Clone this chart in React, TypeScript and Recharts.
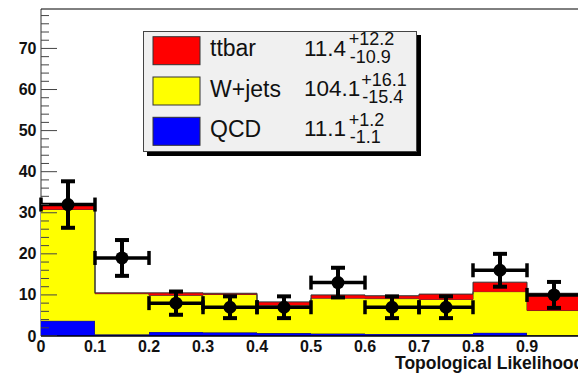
import React from 'react';
import { ComposedChart, Area, Scatter, XAxis, YAxis, ErrorBar, ReferenceLine, Legend } from 'recharts';

// ---- data ----
const binEdges = [0, 0.1, 0.2, 0.3, 0.4, 0.5, 0.6, 0.7, 0.8, 0.9, 1.0];
const qcd = [3.7, 0.4, 1.0, 0.9, 0.7, 0.6, 0.5, 0.5, 0.8, 0.2];
const wjets = [27.1, 9.9, 8.9, 9.2, 6.8, 8.6, 8.6, 8.4, 10.0, 6.0];
const ttbar = [1.2, 0.2, 0.6, 0.3, 0.8, 0.8, 0.7, 1.3, 2.3, 4.2];
const dataCounts = [32, 19, 8, 7, 7, 13, 7, 7, 16, 10];
const dataErrors = [5.66, 4.36, 2.83, 2.65, 2.65, 3.61, 2.65, 2.65, 4.0, 3.16];
const binHalfWidth = 0.05;

const xTicks = [0, 0.1, 0.2, 0.3, 0.4, 0.5, 0.6, 0.7, 0.8, 0.9];
const yTicks = [0, 2, 4, 6, 8, 10, 12, 14, 16, 18, 20, 22, 24, 26, 28, 30, 32, 34, 36, 38,
  40, 42, 44, 46, 48, 50, 52, 54, 56, 58, 60, 62, 64, 66, 68, 70, 72, 74, 76, 78];
const yMax = 79.6;

const legendNames = ['ttbar', 'W+jets', 'QCD'];
const legendYields = ['11.4', '104.1', '11.1'];
const legendUp = ['+12.2', '+16.1', '+1.2'];
const legendDown = ['-10.9', '-15.4', '-1.1'];
const legendColors = ['#ff0000', '#ffff00', '#0000ff'];

const axisTitle = 'Topological Likelihood';

// ---- tables built from the arrays ----
const histData = binEdges.map((x, i) => {
  const j = Math.min(i, qcd.length - 1);
  return { x, qcd: qcd[j], wjets: wjets[j], ttbar: ttbar[j] };
});
const pointData = dataCounts.map((y, i) => ({
  x: binEdges[i] + binHalfWidth,
  y,
  ex: binHalfWidth,
  ey: dataErrors[i],
}));

const FONT = '"Liberation Sans", Arial, Helvetica, sans-serif';

const textWidth = (s: string, size: number) =>
  s.split('').reduce((w, c) => w + (c === '.' ? 0.278 : c === '+' ? 0.584 : c === '-' ? 0.333 : 0.556), 0) * size;

const XTick = (props: any) => {
  const { x, y, payload } = props;
  return (
    <text x={x} y={y + 15.5} textAnchor="middle" fontFamily={FONT} fontWeight="bold" fontSize={16} fill="#111">
      {payload.value}
    </text>
  );
};

const YTick = (props: any) => {
  const { x, y, payload } = props;
  const v = payload.value;
  const major = v % 10 === 0;
  return (
    <g>
      <line x1={x} x2={x + (major ? 16 : 8)} y1={y} y2={y} stroke="#444" strokeWidth={1} />
      {major && (
        <text x={x - 4.5} y={y + 5.5} textAnchor="end" fontFamily={FONT} fontWeight="bold" fontSize={16} fill="#111">
          {v}
        </text>
      )}
    </g>
  );
};

const AxisTitle = (props: any) => {
  const vb = props.viewBox || { x: 41, y: 336, width: 540, height: 37 };
  return (
    <text x={395} y={vb.y + 33} textAnchor="start" fontFamily={FONT} fontWeight="bold" fontSize={17.5} fill="#111">
      {axisTitle}
    </text>
  );
};

const LegendBox = () => (
  <div
    style={{
      width: 272,
      height: 119,
      background: '#f0f0f0',
      border: '1px solid #444',
      boxShadow: '4px 4px 0 #000',
      position: 'relative',
    }}
  >
    <svg width={272} height={119} style={{ position: 'absolute', left: 0, top: 0, overflow: 'visible' }}>
      {legendNames.map((name, i) => {
        const top = 4.7 + i * 40.3;
        const base = top + 19;
        const supX = 160 + textWidth(legendYields[i], 22.5) + 1;
        return (
          <g key={name}>
            <rect x={9} y={top} width={47} height={28} fill={legendColors[i]} stroke="#333" strokeWidth={1} />
            <text x={66} y={base + 0.5} fontFamily={FONT} fontSize={23} fill="#111">{name}</text>
            <text x={160} y={base} fontFamily={FONT} fontSize={22.5} fill="#111">{legendYields[i]}</text>
            <text x={supX} y={base - 10.5} fontFamily={FONT} fontSize={18} fill="#111">{legendUp[i]}</text>
            <text x={supX + 1} y={base + 7} fontFamily={FONT} fontSize={18} fill="#111">{legendDown[i]}</text>
          </g>
        );
      })}
    </svg>
  </div>
);

export default function App() {
  return (
    <div style={{ position: 'absolute', left: 0, top: 0, width: 578, height: 373, overflow: 'hidden', background: '#fff' }}>
      <ComposedChart width={600} height={373} data={histData} margin={{ top: 9, right: 19, bottom: 0, left: 0 }}>
        <XAxis
          dataKey="x"
          type="number"
          domain={[0, 1]}
          ticks={xTicks}
          interval={0}
          height={37}
          tick={<XTick />}
          tickLine={false}
          tickSize={0}
          tickMargin={0}
          axisLine={{ stroke: '#000', strokeWidth: 1.5 }}
          allowDataOverflow
          label={<AxisTitle />}
        />
        <YAxis
          type="number"
          domain={[0, yMax]}
          ticks={yTicks}
          interval={0}
          width={41}
          tick={<YTick />}
          tickLine={false}
          tickSize={0}
          tickMargin={0}
          axisLine={{ stroke: '#333', strokeWidth: 1 }}
          allowDataOverflow
          zIndex={50}
        />
        <Area type="stepAfter" dataKey="qcd" name="QCD" stackId="h" fill="#0000ff" fillOpacity={1} stroke="#333" strokeWidth={1} isAnimationActive={false} dot={false} activeDot={false} />
        <Area type="stepAfter" dataKey="wjets" name="W+jets" stackId="h" fill="#ffff00" fillOpacity={1} stroke="#333" strokeWidth={1} isAnimationActive={false} dot={false} activeDot={false} />
        <Area type="stepAfter" dataKey="ttbar" name="ttbar" stackId="h" fill="#ff0000" fillOpacity={1} stroke="#333" strokeWidth={1} isAnimationActive={false} dot={false} activeDot={false} />
        <ReferenceLine y={yMax} stroke="#000" strokeWidth={1} />
        <ReferenceLine x={1} stroke="#000" strokeWidth={1} />
        <Scatter
          data={pointData}
          dataKey="y"
          fill="#000"
          isAnimationActive={false}
          shape={(p: any) => <circle cx={p.cx} cy={p.cy} r={6.5} fill="#000" />}
        >
          <ErrorBar dataKey="ex" direction="x" width={7} stroke="#000" strokeWidth={3.5} isAnimationActive={false} />
          <ErrorBar dataKey="ey" direction="y" width={7} stroke="#000" strokeWidth={4} isAnimationActive={false} />
        </Scatter>
        <Legend
          layout="vertical"
          align="center"
          verticalAlign="middle"
          content={() => <LegendBox />}
          wrapperStyle={{ left: 143, top: 31, width: 'auto', height: 'auto', margin: 0 }}
        />
      </ComposedChart>
    </div>
  );
}
